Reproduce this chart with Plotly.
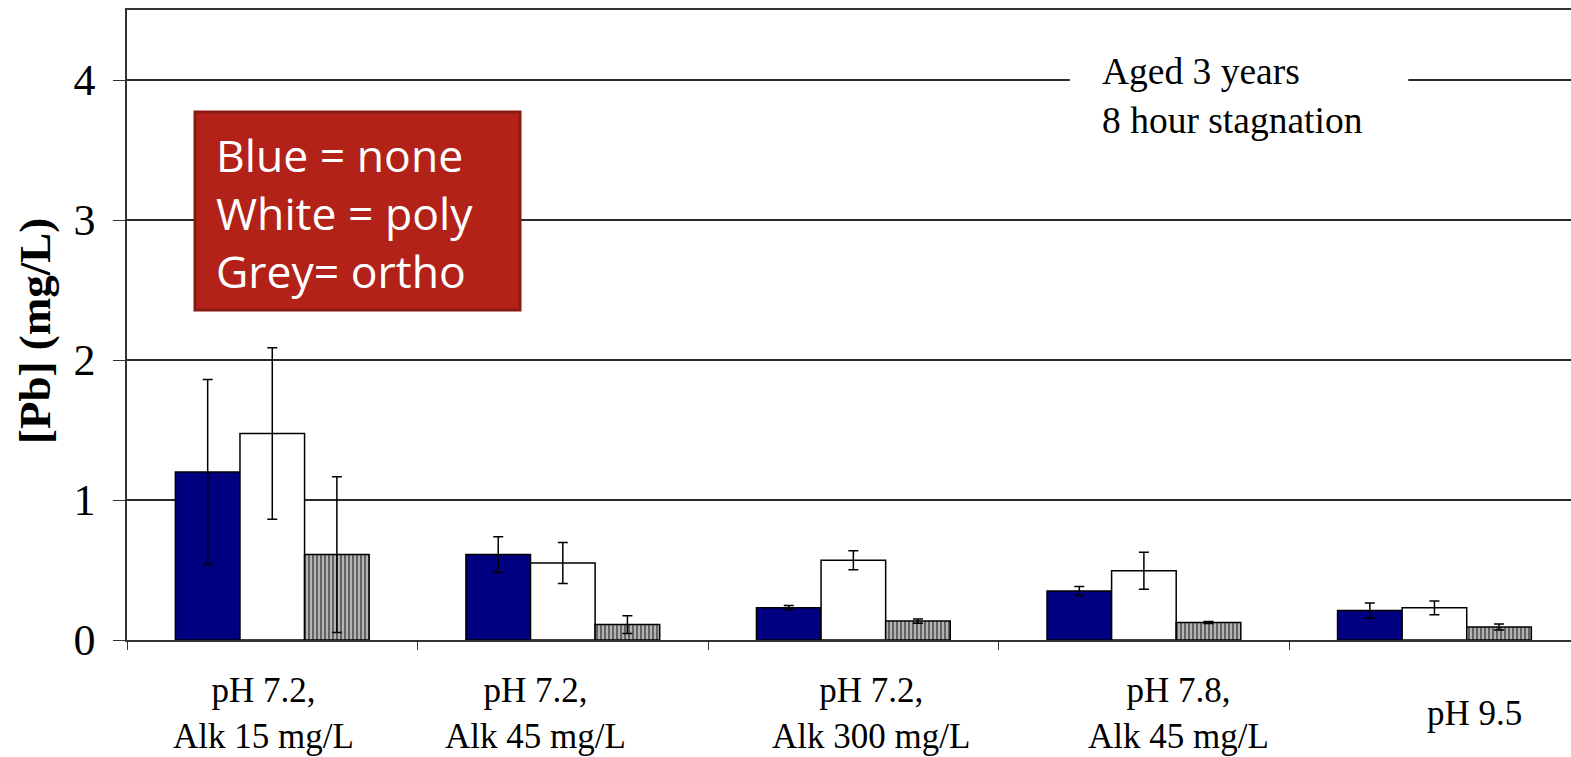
import plotly.graph_objects as go

# Water chemistry conditions (x categories)
conditions = ["pH 7.2, Alk 15", "pH 7.2, Alk 45", "pH 7.2, Alk 300", "pH 7.8, Alk 45", "pH 9.5"]
condition_labels = ["pH 7.2,<br>Alk 15 mg/L", "pH 7.2,<br>Alk 45 mg/L", "pH 7.2,<br>Alk 300 mg/L",
                    "pH 7.8,<br>Alk 45 mg/L", "pH 9.5"]

# Mean lead concentration (mg/L) by inhibitor
pb_none = [1.20, 0.61, 0.23, 0.35, 0.21]
pb_poly = [1.475, 0.55, 0.57, 0.495, 0.23]
pb_ortho = [0.61, 0.11, 0.135, 0.125, 0.093]

# Error bar half-widths (mg/L)
err_none = [0.66, 0.127, 0.016, 0.033, 0.055]
err_poly = [0.612, 0.147, 0.068, 0.132, 0.049]
err_ortho = [0.556, 0.063, 0.015, 0.008, 0.022]

y_ticks = [0, 1, 2, 3, 4]

W, H = 1571, 757
ML, MR, MT, MB = 127, 0, 10, 117
plot_w = W - ML - MR
plot_h = H - MT - MB


def px_x(p):
    return (p - ML) / plot_w


def px_y(p):
    return (H - MB - p) / plot_h


err_style = dict(type="data", visible=True, color="black", thickness=1.5, width=5)
outline = dict(color="black", width=1.5)

fig = go.Figure()
fig.add_trace(go.Bar(
    x=conditions, y=pb_none, name="none",
    marker=dict(color="#000080", line=outline),
    error_y=dict(array=err_none, **err_style),
))
fig.add_trace(go.Bar(
    x=conditions, y=pb_poly, name="poly",
    marker=dict(color="white", line=outline),
    error_y=dict(array=err_poly, **err_style),
))
fig.add_trace(go.Bar(
    x=conditions, y=pb_ortho, name="ortho",
    marker=dict(color="#aaaaaa", line=outline,
                pattern=dict(shape="|", fgcolor="#111111", bgcolor="#b4b4b4",
                             size=4, solidity=0.5)),
    error_y=dict(array=err_ortho, **err_style),
))

# Category labels under each group (nudged sideways as laid out on the slide)
label_nudge = [-9, -27, 18, 35, 40]
annotations = []
for cat, lab, dx in zip(conditions, condition_labels, label_nudge):
    annotations.append(dict(
        x=cat, xref="x", y=px_y(713), yref="paper", text=lab, showarrow=False,
        xanchor="center", yanchor="middle", align="center", xshift=dx,
        font=dict(family="Liberation Serif", size=35, color="black"),
    ))

# Y axis title
annotations.append(dict(
    x=px_x(35), y=px_y(331), xref="paper", yref="paper", text="<b>[Pb] (mg/L)</b>",
    textangle=-90, showarrow=False, xanchor="center", yanchor="middle",
    font=dict(family="Liberation Serif", size=45, color="black"),
))

# Condition note
annotations.append(dict(
    x=px_x(1100), y=px_y(96), xref="paper", yref="paper",
    text="Aged 3 years<br>8 hour stagnation", showarrow=False,
    xanchor="left", yanchor="middle", align="left",
    font=dict(family="Liberation Serif", size=37.5, color="black"),
))

# Key box text
annotations.append(dict(
    x=px_x(214), y=px_y(213), xref="paper", yref="paper",
    text="Blue = none<br>White = poly<br>Grey= ortho", showarrow=False,
    xanchor="left", yanchor="middle", align="left",
    font=dict(family="Open Sans", size=44.5, color="white"),
))

shapes = [
    # blank strip behind the note, over the gridline
    dict(type="rect", xref="x", yref="y", x0=2.745, x1=3.91, y0=3.9, y1=4.12,
         fillcolor="white", line=dict(width=0), layer="between"),
    # key box
    dict(type="rect", xref="paper", yref="paper",
         x0=px_x(195), x1=px_x(520), y0=px_y(310), y1=px_y(112),
         fillcolor="#B22218", line=dict(color="#8A1A12", width=3)),
]

fig.update_layout(
    width=W, height=H,
    margin=dict(l=ML, r=MR, t=MT, b=MB, pad=0),
    paper_bgcolor="white", plot_bgcolor="white",
    barmode="group", bargap=0.333, bargroupgap=0,
    showlegend=False,
    annotations=annotations,
    shapes=shapes,
    xaxis=dict(
        type="category", range=[-0.5, 4.47], tickson="boundaries",
        showticklabels=False, ticks="outside", ticklen=8, tickwidth=1.3, tickcolor="#333",
        showline=True, linecolor="#333", linewidth=1.5, mirror=True,
        showgrid=False, zeroline=False,
    ),
    yaxis=dict(
        range=[0, 4.5], tickvals=y_ticks, ticktext=[str(v) for v in y_ticks],
        ticks="outside", ticklen=12, tickwidth=1.3, tickcolor="#333",
        ticklabelstandoff=9,
        tickfont=dict(family="Liberation Serif", size=44, color="black"),
        showline=True, linecolor="#333", linewidth=1.5,
        showgrid=True, gridcolor="#2a2a2a", gridwidth=1.5, zeroline=False,
    ),
)

fig.write_html("out.html")
